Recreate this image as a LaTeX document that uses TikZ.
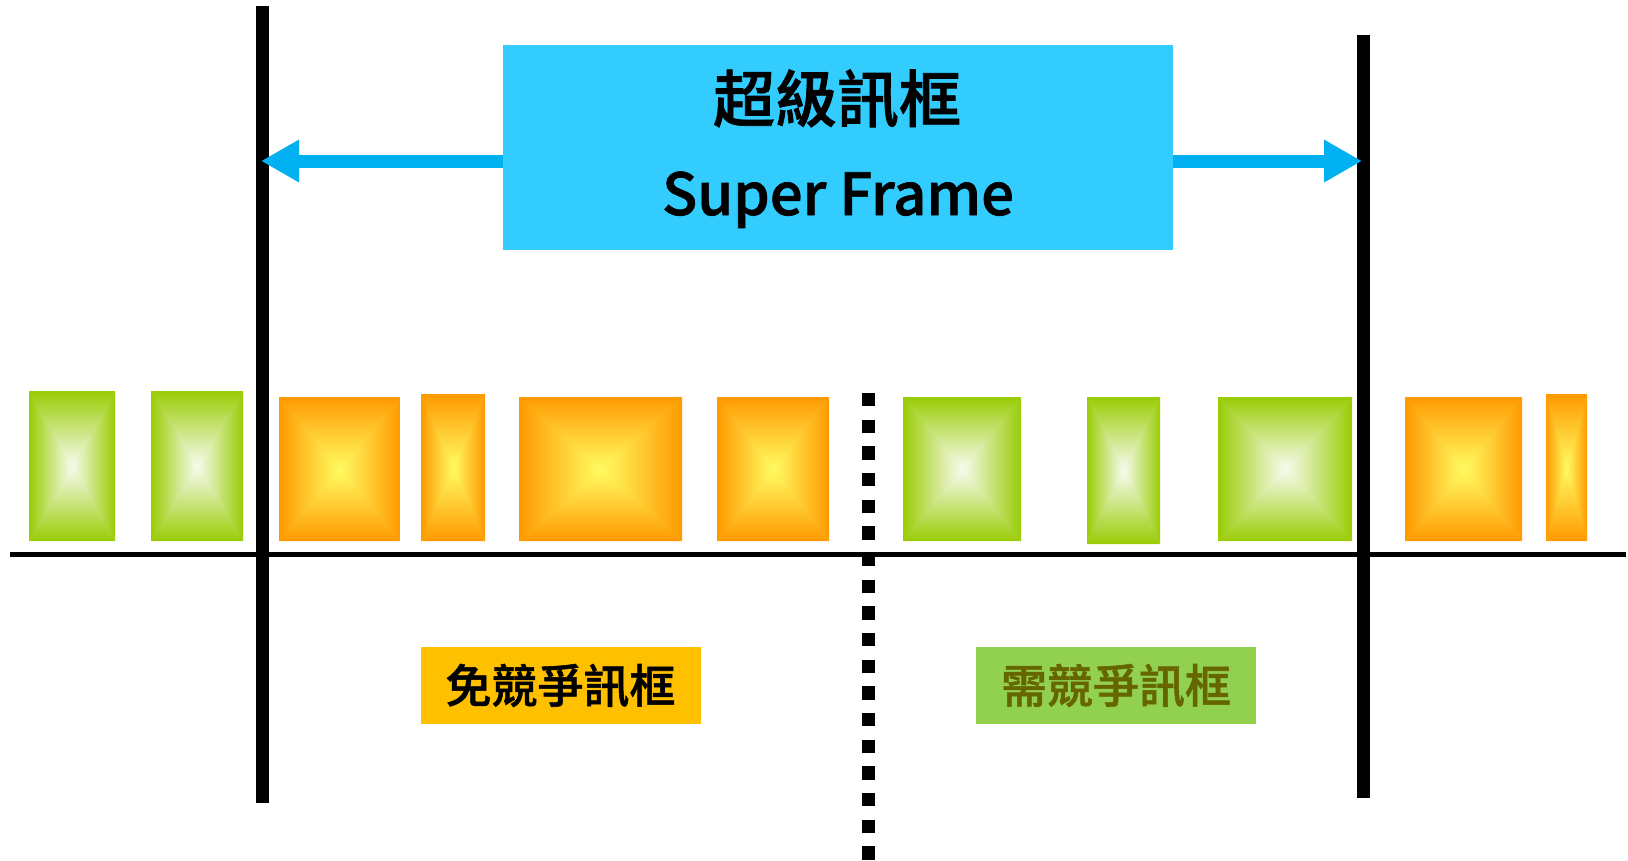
\documentclass[tikz,border=0pt]{standalone}
\usepackage{fontspec}
\newfontfamily\cjk{Noto Sans CJK TC Medium}
\newfontfamily\cjkheavy{Noto Sans CJK TC Medium}[FakeBold=1.2]
\usetikzlibrary{arrows.meta}
\definecolor{grnedge}{RGB}{153,204,5}
\definecolor{grnmid}{RGB}{248,251,240}
\definecolor{orgedge}{RGB}{255,153,0}
\definecolor{orgmid}{RGB}{255,252,98}
\definecolor{sfblue}{RGB}{51,204,255}
\definecolor{spanblue}{RGB}{0,176,240}
\definecolor{freefill}{RGB}{255,192,0}
\definecolor{contfill}{RGB}{146,208,80}
\definecolor{conttext}{RGB}{102,102,0}
\def\pyrbox[#1/#2](#3,#4)(#5,#6){%
  \fill[#1!50!#2] (#3,#4) rectangle (#5,#6);
  \shade[top color=#1, bottom color=#2] (#3,#4) -- (#5,#4) -- ({(#3+#5)/2},{(#4+#6)/2}) -- cycle;
  \shade[top color=#2, bottom color=#1] (#3,#6) -- (#5,#6) -- ({(#3+#5)/2},{(#4+#6)/2}) -- cycle;
  \shade[left color=#1, right color=#2] (#3,#4) -- (#3,#6) -- ({(#3+#5)/2},{(#4+#6)/2}) -- cycle;
  \shade[left color=#2, right color=#1] (#5,#4) -- (#5,#6) -- ({(#3+#5)/2},{(#4+#6)/2}) -- cycle;}
\tikzset{
  bar/.style={line width=13pt},
  timeline/.style={line width=5pt},
  splitline/.style={line width=13pt, dash pattern=on 13.33pt off 13.33pt},
  sfbox/.style={fill=sfblue, minimum width=670pt, minimum height=205pt, inner sep=0pt},
  span/.style={-{Triangle[length=38pt,width=40pt]}, line width=13pt, spanblue},
  lblbox/.style={minimum width=280pt, minimum height=77pt, inner sep=0pt,
    font=\cjkheavy\fontsize{46}{50}\selectfont}
}
\begin{document}
\begin{tikzpicture}[x=1pt,y=-1pt]
		%%%%% START %%%%%
		\useasboundingbox (0,0) rectangle (1628,860);
		
		\pyrbox[grnedge/grnmid](29,391)(115,541)
		\pyrbox[grnedge/grnmid](151,391)(243,541)
		
		\pyrbox[orgedge/orgmid](279,397)(400,541)
		\pyrbox[orgedge/orgmid](421,394)(485,541)
		\pyrbox[orgedge/orgmid](519,397)(682,541)
		\pyrbox[orgedge/orgmid](717,397)(829,541)
		
		\pyrbox[grnedge/grnmid](903,397)(1021,541)
		\pyrbox[grnedge/grnmid](1087,397)(1160,544)
		\pyrbox[grnedge/grnmid](1218,397)(1352,541)
		
		\pyrbox[orgedge/orgmid](1405,397)(1522,541)
		\pyrbox[orgedge/orgmid](1546,394)(1587,541)
		
		\draw[timeline] (10,554) -- (1626,554);
		\draw[splitline] (868,393) -- (868,860);
		\draw[bar] (262,6) -- (262,803);
		\draw[bar] (1363.5,35) -- (1363.5,798);
		
		\coordinate (lefttip) at (261,161);
		\coordinate (righttip) at (1362,161);
		\node[sfbox] (sf) at (838,147.5) {};
		\draw[span] (sf.west |- lefttip) -- (lefttip);
		\draw[span] (sf.east |- righttip) -- (righttip);
		\node[anchor=base, font=\cjkheavy\fontsize{62}{66}\selectfont] (sfzh) at (837,122) {超級訊框};
		\node[anchor=base, font=\cjkheavy\fontsize{58}{64}\selectfont] (sfen) at (838,215) {Super Frame};
		
		\node[lblbox, fill=freefill] (cfp) at (560.5,685.5) {免競爭訊框};
		\node[lblbox, fill=contfill, text=conttext] (cp) at (1116,685.5) {需競爭訊框};
		
		%%%%% END %%%%%
\end{tikzpicture}
\end{document}
